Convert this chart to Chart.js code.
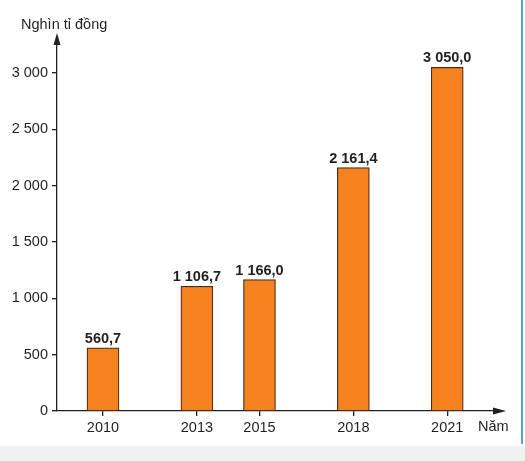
<!DOCTYPE html>
<html>
<head>
<meta charset="utf-8">
<script src="https://cdn.jsdelivr.net/npm/chart.js@4/dist/chart.umd.min.js"></script>
<style>
html,body{margin:0;padding:0;background:#fff;}
#wrap{position:relative;width:525px;height:461px;overflow:hidden;}
canvas{display:block;}
</style>
</head>
<body>
<div id="wrap"><canvas id="c" width="525" height="461"></canvas></div>
<script>
const years = [2010, 2013, 2015, 2018, 2021];
const values = [560.7, 1106.7, 1166.0, 2161.4, 3050.0];
const valueLabels = ["560,7", "1 106,7", "1 166,0", "2 161,4", "3 050,0"];
const yTicks = [0, 500, 1000, 1500, 2000, 2500, 3000];
const yTickLabels = ["0", "500", "1 000", "1 500", "2 000", "2 500", "3 000"];
const yTitle = "Nghìn tỉ đồng";
const xTitle = "Năm";

const FONT = "'Liberation Sans', Arial, sans-serif";
const TXT = '#231f20';
const AX = '#231f20';

const decor = {
  id: 'decor',
  beforeDraw(chart) {
    const ctx = chart.ctx;
    ctx.save();
    ctx.fillStyle = '#ffffff';
    ctx.fillRect(0, 0, 525, 461);
    ctx.fillStyle = '#f1f1f1';
    ctx.fillRect(0, 446, 525, 15);
    ctx.fillStyle = '#5b9fd0';
    ctx.fillRect(521, 0, 2, 444);
    ctx.restore();
  },
  afterDraw(chart) {
    const ctx = chart.ctx;
    const a = chart.chartArea;
    ctx.save();
    ctx.fillStyle = AX;
    // y arrow
    ctx.beginPath();
    ctx.moveTo(a.left, a.top - 4);
    ctx.lineTo(a.left - 3.5, a.top + 8);
    ctx.lineTo(a.left + 3.5, a.top + 8);
    ctx.closePath();
    ctx.fill();
    // x arrow
    ctx.beginPath();
    ctx.moveTo(a.right + 4, a.bottom);
    ctx.lineTo(a.right - 9, a.bottom - 3.5);
    ctx.lineTo(a.right - 9, a.bottom + 3.5);
    ctx.closePath();
    ctx.fill();
    // titles
    ctx.fillStyle = TXT;
    ctx.font = '14.5px ' + FONT;
    ctx.textAlign = 'left';
    ctx.textBaseline = 'middle';
    ctx.fillText(yTitle, 21, 25);
    ctx.fillText(xTitle, 478, 427);
    // value labels
    ctx.font = 'bold 14.5px ' + FONT;
    ctx.textAlign = 'center';
    ctx.textBaseline = 'alphabetic';
    const meta = chart.getDatasetMeta(0);
    meta.data.forEach((el, i) => {
      ctx.fillText(valueLabels[i], el.x, el.y - 5);
    });
    ctx.restore();
  }
};

new Chart(document.getElementById('c'), {
  type: 'bar',
  data: {
    datasets: [{
      data: years.map((y, i) => ({x: y, y: values[i]})),
      backgroundColor: '#f5821f',
      borderColor: '#4d2a17',
      borderWidth: 1.2,
      borderSkipped: 'bottom',
      barThickness: 32
    }]
  },
  options: {
    responsive: false,
    animation: false,
    layout: {padding: {left: 0, top: 37, right: 23, bottom: 0}},
    plugins: {legend: {display: false}, tooltip: {enabled: false}},
    scales: {
      x: {
        type: 'linear',
        offset: false,
        min: 2008.53,
        max: 2022.75,
        afterBuildTicks: s => { s.ticks = years.map(v => ({value: v})); },
        afterFit: s => { s.height = 50; },
        ticks: {
          color: TXT,
          font: {family: FONT, size: 14.5},
          padding: 3,
          maxRotation: 0,
          autoSkip: false,
          callback: v => String(v)
        },
        grid: {offset: false, drawOnChartArea: false, drawTicks: true, tickLength: 5, color: AX, lineWidth: 1.3},
        border: {display: true, color: AX, width: 1.3}
      },
      y: {
        type: 'linear',
        min: 0,
        max: 3320,
        afterBuildTicks: s => { s.ticks = yTicks.map(v => ({value: v})); },
        afterFit: s => { s.width = 57; },
        ticks: {
          color: TXT,
          font: {family: FONT, size: 14.5},
          padding: 4,
          autoSkip: false,
          callback: v => yTickLabels[yTicks.indexOf(v)]
        },
        grid: {drawOnChartArea: false, drawTicks: true, tickLength: 5, color: AX, lineWidth: 1.3},
        border: {display: true, color: AX, width: 1.3}
      }
    }
  },
  plugins: [decor]
});
</script>
</body>
</html>
